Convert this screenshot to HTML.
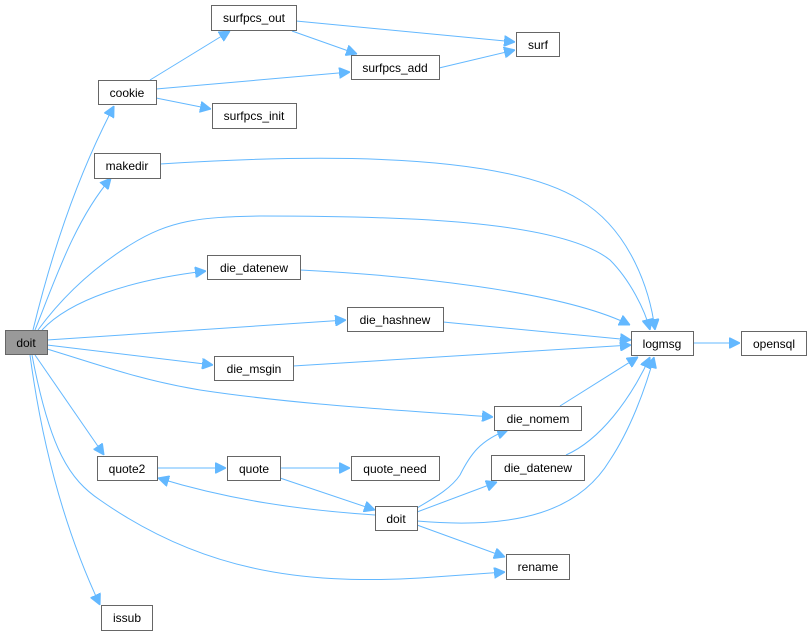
<!DOCTYPE html>
<html><head><meta charset="utf-8"><style>
html,body{margin:0;padding:0;background:#fff;}
svg{display:block;}
text{font-family:"Liberation Sans",sans-serif;font-size:12px;fill:#000;text-anchor:middle;}
rect{fill:#fff;stroke:#666;stroke-width:1;}
path{fill:none;stroke:#63b8ff;stroke-width:1;}
</style></head><body>
<svg width="812" height="635" viewBox="0 0 812 635" xmlns="http://www.w3.org/2000/svg">
<defs><marker id="a" viewBox="0 0 10 10" refX="10" refY="5" markerWidth="11" markerHeight="11" markerUnits="userSpaceOnUse" orient="auto"><path d="M0,0 L10,5 L0,10 Z" style="fill:#63b8ff;stroke:#63b8ff"/></marker></defs>
<g marker-end="url(#a)">
<path d="M150,80 L230,31"/>
<path d="M156,89 L350,72"/>
<path d="M156,98 L211,109"/>
<path d="M296,21 L515,42"/>
<path d="M292,31 L357,54"/>
<path d="M439,68 L515,50"/>
<path d="M160,164 C300,155 500,150 580,200 C630,230 650,290 655,330"/>
<path d="M33,330 C50,260 75,180 114,106"/>
<path d="M35,330 C55,280 75,220 111,178"/>
<path d="M38,330 C60,300 90,270 130,245 C170,220 200,217 260,216 C400,216 560,220 610,260 C630,280 645,310 650,330"/>
<path d="M42,330 C70,300 130,280 206,271"/>
<path d="M47,340 L346,320"/>
<path d="M47,345 L213,365"/>
<path d="M47,349 C100,365 140,380 200,390 C300,405 400,410 493,417"/>
<path d="M35,355 L104,455"/>
<path d="M30,355 C40,430 60,520 100,605"/>
<path d="M32,355 C50,450 70,480 100,500 C200,570 300,585 420,578 C450,576 480,574 505,572"/>
<path d="M300,270 C400,275 560,290 630,325"/>
<path d="M443,322 L631,340"/>
<path d="M293,366 L631,345"/>
<path d="M560,406 L638,357"/>
<path d="M566,455 C600,440 630,400 650,357"/>
<path d="M417,521 C520,530 580,510 610,460 C630,430 645,390 654,357"/>
<path d="M693,343 L740,343"/>
<path d="M157,468 L226,468"/>
<path d="M280,468 L350,468"/>
<path d="M280,478 L375,510"/>
<path d="M375,515 C300,510 230,500 158,478"/>
<path d="M417,508 C430,500 450,490 460,475 C470,455 480,440 508,430"/>
<path d="M417,512 L497,482"/>
<path d="M417,525 L505,557"/>
</g>
<rect x="5.5" y="330.5" width="42" height="24" style="fill:#999"/><text x="26" y="347">doit</text>
<rect x="98.5" y="80.5" width="58" height="24"/><text x="127" y="97">cookie</text>
<rect x="211.5" y="5.5" width="85" height="25"/><text x="254" y="22">surfpcs_out</text>
<rect x="516.5" y="32.5" width="43" height="24"/><text x="538" y="49">surf</text>
<rect x="351.5" y="55.5" width="88" height="24"/><text x="395" y="72">surfpcs_add</text>
<rect x="212.5" y="103.5" width="84" height="25"/><text x="254" y="120">surfpcs_init</text>
<rect x="94.5" y="153.5" width="66" height="25"/><text x="127" y="170">makedir</text>
<rect x="207.5" y="255.5" width="93" height="24"/><text x="254" y="272">die_datenew</text>
<rect x="347.5" y="307.5" width="96" height="24"/><text x="395" y="324">die_hashnew</text>
<rect x="214.5" y="356.5" width="79" height="24"/><text x="254" y="373">die_msgin</text>
<rect x="631.5" y="331.5" width="62" height="24"/><text x="662" y="348">logmsg</text>
<rect x="741.5" y="331.5" width="65" height="24"/><text x="774" y="348">opensql</text>
<rect x="494.5" y="406.5" width="87" height="24"/><text x="538" y="423">die_nomem</text>
<rect x="97.5" y="456.5" width="60" height="24"/><text x="127" y="473">quote2</text>
<rect x="227.5" y="456.5" width="53" height="24"/><text x="254" y="473">quote</text>
<rect x="351.5" y="456.5" width="88" height="24"/><text x="395" y="473">quote_need</text>
<rect x="491.5" y="455.5" width="93" height="25"/><text x="538" y="472">die_datenew</text>
<rect x="375.5" y="506.5" width="42" height="24"/><text x="396" y="523">doit</text>
<rect x="506.5" y="554.5" width="63" height="25"/><text x="538" y="571">rename</text>
<rect x="101.5" y="605.5" width="51" height="25"/><text x="127" y="622">issub</text>
</svg>
</body></html>
